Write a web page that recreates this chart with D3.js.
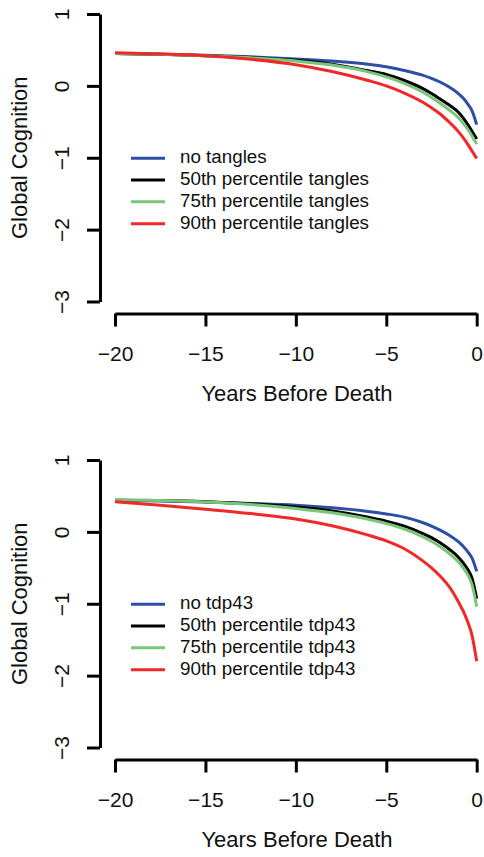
<!DOCTYPE html>
<html>
<head>
<meta charset="utf-8">
<script src="https://cdn.jsdelivr.net/npm/d3@7"></script>
<style>
  body { margin: 0; background: #fff; }
  text { font-family: "Liberation Sans", Arial, sans-serif; fill: #111; }
</style>
</head>
<body>
<div id="chart"></div>
<script>
var years = [-20, -17.5, -15, -12.5, -10, -8, -6, -5, -4, -3, -2.5, -2, -1.5, -1, -0.75, -0.5, -0.25, 0];

// top panel: tangles
var tanglesNone = [0.45, 0.44, 0.425, 0.405, 0.375, 0.345, 0.30, 0.265, 0.215, 0.15, 0.105, 0.05, -0.02, -0.11, -0.17, -0.25, -0.35, -0.54];
var tangles50 = [0.45, 0.44, 0.42, 0.395, 0.355, 0.30, 0.21, 0.16, 0.075, -0.035, -0.105, -0.185, -0.27, -0.37, -0.445, -0.535, -0.635, -0.74];
var tangles75 = [0.45, 0.44, 0.42, 0.39, 0.345, 0.29, 0.195, 0.125, 0.035, -0.085, -0.16, -0.245, -0.34, -0.445, -0.52, -0.60, -0.70, -0.81];
var tangles90 = [0.46, 0.445, 0.42, 0.37, 0.295, 0.20, 0.075, 0.0, -0.10, -0.225, -0.305, -0.395, -0.51, -0.64, -0.72, -0.81, -0.91, -1.01];

// bottom panel: tdp43
var tdpNone = [0.44, 0.43, 0.415, 0.395, 0.37, 0.335, 0.285, 0.25, 0.205, 0.13, 0.08, 0.02, -0.05, -0.14, -0.20, -0.275, -0.37, -0.55];
var tdp50 = [0.44, 0.435, 0.42, 0.39, 0.345, 0.29, 0.205, 0.15, 0.08, -0.02, -0.08, -0.155, -0.245, -0.355, -0.43, -0.52, -0.65, -0.93];
var tdp75 = [0.445, 0.435, 0.415, 0.38, 0.325, 0.265, 0.175, 0.115, 0.04, -0.065, -0.13, -0.21, -0.305, -0.42, -0.50, -0.595, -0.74, -1.04];
var tdp90 = [0.42, 0.37, 0.315, 0.255, 0.18, 0.085, -0.045, -0.125, -0.235, -0.40, -0.50, -0.62, -0.77, -0.98, -1.10, -1.25, -1.45, -1.80];

var tangleLabels = ["no tangles", "50th percentile tangles", "75th percentile tangles", "90th percentile tangles"];
var tdpLabels = ["no tdp43", "50th percentile tdp43", "75th percentile tdp43", "90th percentile tdp43"];

var xTicks = [-20, -15, -10, -5, 0];
var yTicks = [-3, -2, -1, 0, 1];
var colors = ["#2d4ea5", "#000000", "#79c679", "#f02828"];

var width = 484,
    height = 857;

var svg = d3.select('#chart')
    .append('svg')
    .attr('width', width)
    .attr('height', height);

var panels = [
    { top: 14, series: [tanglesNone, tangles50, tangles75, tangles90], labels: tangleLabels },
    { top: 460, series: [tdpNone, tdp50, tdp75, tdp90], labels: tdpLabels }
];

var minus = function (d) { return d < 0 ? '\u2212' + Math.abs(d) : '' + d; };

panels.forEach(function (p) {
    var g = svg.append('g').attr('transform', 'translate(0,' + p.top + ')');

    var x = d3.scaleLinear().domain([-20, 0]).range([115, 476.7]);
    var y = d3.scaleLinear().domain([-3, 1]).range([287.5, 0]);

    // y axis (R style, detached)
    var yAxis = g.append('g')
        .attr('transform', 'translate(100,0)')
        .call(d3.axisLeft(y).tickValues(yTicks).tickFormat(minus).tickSize(13).tickSizeOuter(0));
    yAxis.select('.domain').attr('stroke-width', 3);
    yAxis.selectAll('.tick line').attr('stroke-width', 3);
    yAxis.selectAll('.tick text')
        .attr('font-size', 21)
        .attr('x', null).attr('dy', null)
        .attr('transform', 'translate(-37,0) rotate(-90)')
        .attr('text-anchor', 'middle')
        .attr('dominant-baseline', 'middle');

    // x axis
    var xAxis = g.append('g')
        .attr('transform', 'translate(0,' + (y(-3) + 12) + ')')
        .call(d3.axisBottom(x).tickValues(xTicks).tickFormat(minus).tickSize(13).tickSizeOuter(0));
    xAxis.select('.domain').attr('stroke-width', 3);
    xAxis.selectAll('.tick line').attr('stroke-width', 3);
    xAxis.selectAll('.tick text')
        .attr('font-size', 21)
        .attr('y', 42).attr('dy', null)
        .attr('dominant-baseline', 'middle');

    g.selectAll('.domain, .tick line').attr('stroke', '#000');
    g.selectAll('.tick text').style('fill', '#111');

    g.append('text')
        .attr('x', 297)
        .attr('y', y(-3) + 94)
        .attr('text-anchor', 'middle')
        .attr('dominant-baseline', 'middle')
        .attr('font-size', 22)
        .text('Years Before Death');

    g.append('text')
        .attr('transform', 'translate(21,' + y(-1) + ') rotate(-90)')
        .attr('text-anchor', 'middle')
        .attr('dominant-baseline', 'middle')
        .attr('font-size', 22)
        .text('Global Cognition');

    var line = d3.line()
        .x(function (d) { return x(d[0]); })
        .y(function (d) { return y(d[1]); })
        .curve(d3.curveMonotoneX);

    p.series.forEach(function (vals, i) {
        g.append('path')
            .datum(d3.zip(years, vals))
            .attr('fill', 'none')
            .attr('stroke', colors[i])
            .attr('stroke-width', 3)
            .attr('d', line);
    });

    // legend
    var leg = g.append('g').attr('transform', 'translate(131,' + (y(-1) + 0.5) + ')');
    p.labels.forEach(function (lab, i) {
        leg.append('line')
            .attr('x1', 0).attr('x2', 34)
            .attr('y1', i * 21.8).attr('y2', i * 21.8)
            .attr('stroke', colors[i])
            .attr('stroke-width', 3);
        leg.append('text')
            .attr('x', 49)
            .attr('y', i * 21.8)
            .attr('dominant-baseline', 'middle')
            .attr('font-size', 18.8)
            .text(lab);
    });
});
</script>
</body>
</html>
